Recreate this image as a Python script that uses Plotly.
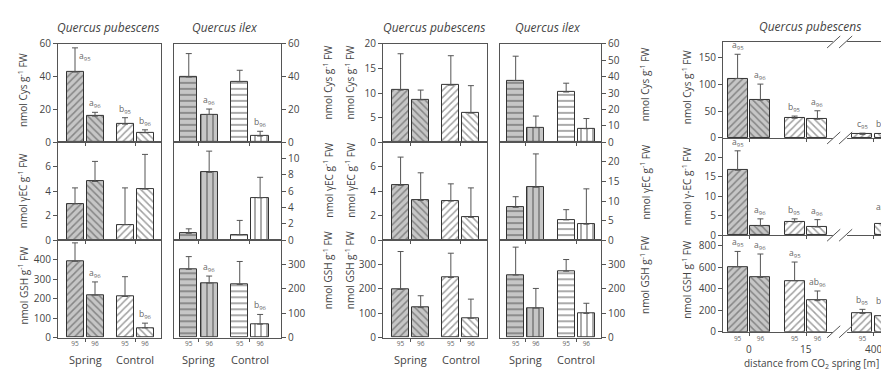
import plotly.graph_objects as go

W, H = 889, 376

# ---------------- data ----------------
sites = ['Spring', 'Control']
years = ['95', '96', '95', '96']
distances = ['0', '15', '400']
years6 = ['95', '96', '95', '96', '95', '96']

# left block, Quercus pubescens (Spring95, Spring96, Control95, Control96)
lp_cys = [42.8, 15.9, 11.0, 5.7]
lp_cys_err = [14.8, 2.3, 3.9, 1.8]
lp_gec = [2.97, 4.79, 1.27, 4.17]
lp_gec_err = [1.3, 1.64, 3.0, 2.83]
lp_gsh = [392, 218, 211, 50]
lp_gsh_err = [95, 68, 102, 24]
# left block, Quercus ilex
li_cys = [39.8, 16.9, 36.9, 3.7]
li_cys_err = [14.3, 3.3, 7.0, 2.9]
li_gec = [0.85, 8.3, 0.68, 5.2]
li_gec_err = [0.55, 2.6, 1.75, 2.5]
li_gsh = [281, 224, 218, 55]
li_gsh_err = [52, 29, 95, 40]
# middle block, Quercus pubescens
mp_cys = [10.6, 8.6, 11.6, 5.9]
mp_cys_err = [7.4, 2.0, 6.0, 5.6]
mp_gec = [4.48, 3.25, 3.2, 1.87]
mp_gec_err = [2.3, 2.25, 1.4, 2.4]
mp_gsh = [198, 123, 247, 79]
mp_gsh_err = [156, 49, 100, 79]
# middle block, Quercus ilex
mi_cys = [37.6, 8.8, 30.6, 8.2]
mi_cys_err = [14.9, 7.1, 5.4, 6.2]
mi_gec = [8.4, 13.5, 5.2, 4.1]
mi_gec_err = [2.7, 8.5, 2.6, 9.0]
mi_gsh = [257, 121, 273, 99]
mi_gsh_err = [115, 81, 48, 42]
# right block, Quercus pubescens vs distance (0 m 95/96, 15 m 95/96, 400 m 95/96)
rd_cys = [111.6, 71, 37, 35, 6.7, 7]
rd_cys_err = [45.4, 30, 4, 16, 2.3, 2]
rd_gec = [16.7, 2.4, 3.4, 2.1, None, 2.8]
rd_gec_err = [5.0, 1.8, 0.8, 1.9, None, 2.2]
rd_gsh = [605, 506, 476, 290, 171, 141]
rd_gsh_err = [144, 219, 174, 90, 38, 59]

# significance letters: (text, subscript) per bar, None = no letter
lp_cys_sig = [('a', '95'), ('a', '96'), ('b', '95'), ('b', '96')]
lp_gsh_sig = [None, ('a', '96'), None, ('b', '96')]
li_cys_sig = [None, ('a', '96'), None, ('b', '96')]
li_gsh_sig = [None, ('a', '96'), None, ('b', '96')]
rd_cys_sig = [('a', '95'), ('a', '96'), ('b', '95'), ('a', '96'), ('c', '95'), ('b', '96')]
rd_gec_sig = [('a', '95'), ('a', '96'), ('b', '95'), ('a', '96'), None, ('a', '96')]
rd_gsh_sig = [('a', '95'), ('a', '96'), ('a', '95'), ('ab', '96'), ('b', '95'), ('b', '96')]

# ---------------- styling ----------------
GRAY = '#c6c6c6'
INK = '#444444'
LINE = '#555555'
FONT = 'Open Sans'

pub_shapes = ['/', '\\', '/', '\\']
pub_bg = [GRAY, GRAY, 'white', 'white']
ilex_shapes = ['-', '|', '-', '|']
ilex_bg = [GRAY, GRAY, 'white', 'white']
rd_shapes = ['/', '\\', '/', '\\', '/', '\\']
rd_bg = [GRAY, GRAY, 'white', 'white', 'white', 'white']

rows_std = [(30, 132), (132, 234), (234, 335)]
rows_rd = [(28, 127.7), (127.7, 228.7), (228.7, 329)]

panels = [
    dict(px=(50, 153), side='left', rows=rows_std, centers=[1, 2], xr=[0.46, 2.52], bw=0.34, off=0.2,
         data=[(lp_cys, lp_cys_err, lp_cys_sig), (lp_gec, lp_gec_err, None), (lp_gsh, lp_gsh_err, lp_gsh_sig)],
         yr=[60, 8, 500], yt=[[0, 20, 40, 60], [0, 2, 4, 6], [0, 100, 200, 300, 400]],
         shapes=pub_shapes, bg=pub_bg, psize=5, mirror=True, ticks=years, glabels=sites),
    dict(px=(166, 273), side='right', rows=rows_std, centers=[1, 2], xr=[0.51, 2.61], bw=0.34, off=0.2,
         data=[(li_cys, li_cys_err, li_cys_sig), (li_gec, li_gec_err, None), (li_gsh, li_gsh_err, li_gsh_sig)],
         yr=[60, 12, 400], yt=[[0, 20, 40, 60], [0, 2, 4, 6, 8, 10], [0, 100, 200, 300]],
         shapes=ilex_shapes, bg=ilex_bg, psize=6, mirror=True, ticks=years, glabels=sites),
    dict(px=(375, 479), side='left', rows=rows_std, centers=[1, 2], xr=[0.45, 2.52], bw=0.34, off=0.2,
         data=[(mp_cys, mp_cys_err, None), (mp_gec, mp_gec_err, None), (mp_gsh, mp_gsh_err, None)],
         yr=[20, 8, 400], yt=[[0, 5, 10, 15, 20], [0, 2, 4, 6], [0, 100, 200, 300]],
         shapes=pub_shapes, bg=pub_bg, psize=5, mirror=True, ticks=years, glabels=sites),
    dict(px=(492, 593), side='right', rows=rows_std, centers=[1, 2], xr=[0.49, 2.49], bw=0.34, off=0.2,
         data=[(mi_cys, mi_cys_err, None), (mi_gec, mi_gec_err, None), (mi_gsh, mi_gsh_err, None)],
         yr=[60, 25, 400], yt=[[0, 10, 20, 30, 40, 50, 60], [0, 5, 10, 15, 20], [0, 100, 200, 300]],
         shapes=ilex_shapes, bg=ilex_bg, psize=6, mirror=True, ticks=years, glabels=sites),
    dict(px=(715, 889), side='left', rows=rows_rd, centers=[0, 1, 2.19], xr=[-0.456, 2.596], bw=0.35, off=0.2,
         data=[(rd_cys, rd_cys_err, rd_cys_sig), (rd_gec, rd_gec_err, rd_gec_sig), (rd_gsh, rd_gsh_err, rd_gsh_sig)],
         yr=[180, 25, 900], yt=[[0, 50, 100, 150], [0, 5, 10, 15, 20], [0, 200, 400, 600, 800]],
         shapes=rd_shapes, bg=rd_bg, psize=5, mirror=False, ticks=years6, glabels=distances),
]

fig = go.Figure()
layout = dict(width=W, height=H, margin=dict(l=0, r=0, t=0, b=0),
              paper_bgcolor='white', plot_bgcolor='white', showlegend=False,
              font=dict(family=FONT, color=INK, size=10), bargap=0)
annotations = []
shapes = []

for p, P in enumerate(panels):
    xs = [c + o for c in P['centers'] for o in (-P['off'], P['off'])]
    for r in range(3):
        k = p * 3 + r + 1
        xn = 'x' if k == 1 else f'x{k}'
        yn = 'y' if k == 1 else f'y{k}'
        vals, errs, sig = P['data'][r]
        n = len(vals)
        fig.add_trace(go.Bar(
            x=xs, y=vals, width=P['bw'], xaxis=xn, yaxis=yn,
            marker=dict(color=P['bg'], line=dict(color='#333333', width=1),
                        pattern=dict(shape=P['shapes'], bgcolor=P['bg'], fgcolor='#111111',
                                     size=P['psize'], solidity=0.3)),
            error_y=dict(type='data', symmetric=False, array=errs, arrayminus=[0] * n,
                         color=LINE, thickness=1, width=3),
            hoverinfo='skip', showlegend=False))
        top, bot = P['rows'][r]
        layout['xaxis' if k == 1 else f'xaxis{k}'] = dict(
            domain=[P['px'][0] / W, P['px'][1] / W], range=P['xr'], anchor=yn,
            showline=True, linecolor=LINE, linewidth=1, mirror=(True if (P['mirror'] or r == 0) else False),
            showgrid=False, zeroline=False,
            tickmode='array', tickvals=xs, ticktext=P['ticks'], ticks='',
            showticklabels=(r == 2), tickfont=dict(size=6.5, color='#666666'),
            minor=dict(tickmode='array', tickvals=P['centers'], ticks='outside', ticklen=3,
                       tickcolor=LINE, tickwidth=1, showgrid=False))
        yt = P['yt'][r]
        layout['yaxis' if k == 1 else f'yaxis{k}'] = dict(
            domain=[1 - bot / H, 1 - top / H], range=[0, P['yr'][r] * 1.0005], anchor=xn,
            side=P['side'], showline=True, linecolor=LINE, linewidth=1,
            mirror=P['mirror'], showgrid=False, zeroline=False,
            tickmode='array', tickvals=yt, ticktext=[str(v) for v in yt],
            ticks='outside', ticklen=4, tickcolor=LINE, tickfont=dict(size=10, color=INK))
        # significance letters
        if sig:
            for i, s in enumerate(sig):
                if s is None or vals[i] is None:
                    continue
                special = (p == 0 and r == 0 and i == 0)
                edge = (p == 4 and i == len(sig) - 1)
                annotations.append(dict(
                    x=xs[i], y=vals[i] + errs[i], xref=xn, yref=yn,
                    text=f'{s[0]}<sub>{s[1]}</sub>', showarrow=False,
                    font=dict(size=8.5, color='#666666'),
                    yanchor='middle' if special else 'bottom',
                    xshift=10 if special else (-3 if edge else 0),
                    yshift=-9 if special else 0))
    # group labels under the bottom row
    kb = p * 3 + 3
    xb = f'x{kb}'
    gy = 1 - 358 / H if p < 4 else 1 - 347 / H
    for c, g in zip(P['centers'], P['glabels']):
        annotations.append(dict(x=c, y=gy, xref=xb, yref='paper', text=g, showarrow=False,
                                font=dict(size=11 if p < 4 else 10, color=INK), yanchor='middle'))

# axis break marks on the distance block
for r, yanc in [(0, 1), (0, 0), (1, 0), (2, 0)]:
    k = 4 * 3 + r + 1
    xr_, yr_ = f'x{k}', f'y{k} domain'
    shapes.append(dict(type='rect', xref=xr_, yref=yr_, x0=1.47, x1=1.72, ysizemode='pixel',
                       yanchor=yanc, y0=-1.6, y1=1.6, fillcolor='white', line=dict(width=0), layer='above'))
    for xa, xb_ in [(1.37, 1.60), (1.58, 1.81)]:
        shapes.append(dict(type='line', xref=xr_, yref=yr_, x0=xa, x1=xb_, ysizemode='pixel',
                           yanchor=yanc, y0=-6, y1=6, line=dict(color=LINE, width=1), layer='above'))

# titles
def ptext(x, y, text, **kw):
    d = dict(x=x / W, y=1 - y / H, xref='paper', yref='paper', text=text, showarrow=False,
             xanchor='center', yanchor='middle')
    d.update(kw)
    annotations.append(d)

tfont = dict(size=12, color=INK, family=FONT)
ptext(100, 13, '<i>Quercus pubescens</i>', font=tfont)
ptext(217, 13, '<i>Quercus ilex</i>', font=tfont)
ptext(426, 13, '<i>Quercus pubescens</i>', font=tfont)
ptext(540, 13, '<i>Quercus ilex</i>', font=tfont)
ptext(802, 12, '<i>Quercus pubescens</i>', font=tfont)

lab_cys = 'nmol Cys g<sup>-1</sup> FW'
lab_gec = 'nmol γEC g<sup>-1</sup> FW'
lab_gec2 = 'nmol γ-EC g<sup>-1</sup> FW'
lab_gsh = 'nmol GSH g<sup>-1</sup> FW'
afont = dict(size=10, color=INK, family=FONT)
for x, ys, labs in [
    (15, (78, 182, 281), (lab_cys, lab_gec, lab_gsh)),
    (320, (70, 171, 265), (lab_cys, lab_gec, lab_gsh)),
    (342, (70, 171, 265), (lab_cys, lab_gec, lab_gsh)),
    (637, (72, 173, 270), (lab_cys, lab_gec, lab_gsh)),
    (679, (75, 178, 275), (lab_cys, lab_gec2, lab_gsh)),
]:
    for y, t in zip(ys, labs):
        ptext(x, y, t, textangle=-90, font=afont)

ptext(803, 362, 'distance from CO<sub>2</sub> spring [m]', font=dict(size=10, color=INK, family=FONT))

layout['annotations'] = annotations
layout['shapes'] = shapes
fig.update_layout(**layout)
fig.write_html('out.html')
